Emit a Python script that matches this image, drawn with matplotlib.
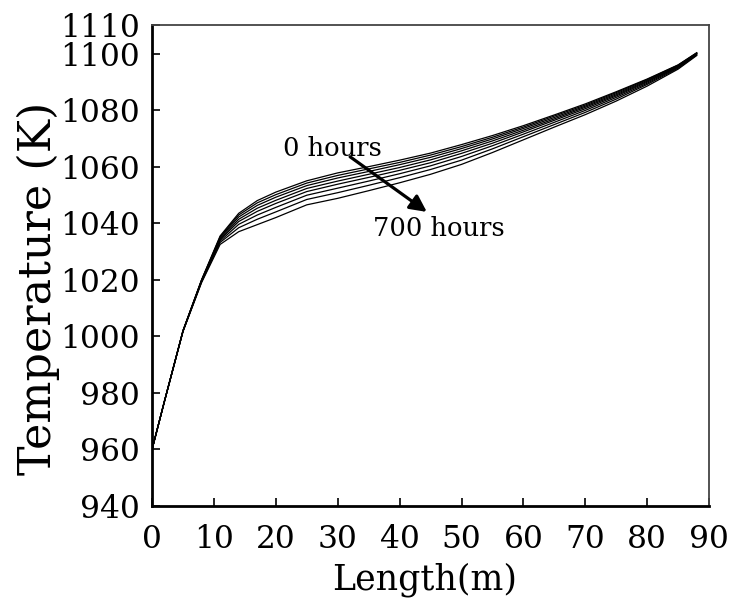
import matplotlib
matplotlib.use("Agg")
import matplotlib.pyplot as plt

# positions along the tube (m)
length = [0, 2, 5, 8, 11, 14, 17, 20, 25, 30, 35, 40, 45, 50, 55, 60, 65, 70, 75, 80, 85, 88]

# temperature profiles (K), 0 h ... 700 h in 100 h steps
t_000h = [960, 977, 1002.0, 1020.0, 1035.5, 1043.5, 1048.0, 1051.0, 1055.0, 1057.8, 1060.0, 1062.3,
          1064.8, 1067.8, 1071.0, 1074.5, 1078.3, 1082.2, 1086.5, 1091.0, 1096.0, 1100.3]
t_100h = [960, 977, 1002.0, 1019.9, 1035.2, 1042.9, 1047.2, 1050.1, 1054.2, 1056.9, 1059.2, 1061.5,
          1064.1, 1067.1, 1070.4, 1074.0, 1077.9, 1081.8, 1086.2, 1090.8, 1095.9, 1100.2]
t_200h = [960, 977, 1001.9, 1019.8, 1034.9, 1042.2, 1046.3, 1049.2, 1053.3, 1056.0, 1058.3, 1060.7,
          1063.3, 1066.4, 1069.8, 1073.5, 1077.4, 1081.4, 1085.8, 1090.5, 1095.7, 1100.1]
t_300h = [960, 977, 1001.9, 1019.7, 1034.5, 1041.4, 1045.3, 1048.1, 1052.3, 1054.9, 1057.3, 1059.7,
          1062.4, 1065.6, 1069.1, 1072.9, 1076.9, 1081.0, 1085.4, 1090.2, 1095.5, 1100.0]
t_400h = [960, 977, 1001.9, 1019.6, 1034.2, 1040.6, 1044.2, 1047.0, 1051.2, 1053.8, 1056.2, 1058.7,
          1061.4, 1064.7, 1068.3, 1072.3, 1076.4, 1080.5, 1085.0, 1089.9, 1095.3, 1099.9]
t_500h = [960, 977, 1001.8, 1019.4, 1033.7, 1039.6, 1042.9, 1045.6, 1049.9, 1052.4, 1054.9, 1057.5,
          1060.3, 1063.6, 1067.4, 1071.5, 1075.7, 1079.9, 1084.5, 1089.5, 1095.1, 1099.7]
t_600h = [960, 977, 1001.8, 1019.2, 1033.2, 1038.4, 1041.4, 1044.0, 1048.4, 1050.8, 1053.4, 1056.1,
          1059.0, 1062.3, 1066.3, 1070.6, 1074.9, 1079.2, 1083.9, 1089.1, 1094.8, 1099.5]
t_700h = [960, 977, 1001.7, 1019.0, 1032.5, 1037.0, 1039.5, 1042.0, 1046.5, 1048.8, 1051.5, 1054.3,
          1057.3, 1060.8, 1065.0, 1069.5, 1074.0, 1078.4, 1083.2, 1088.5, 1094.5, 1099.3]

profiles = [t_000h, t_100h, t_200h, t_300h, t_400h, t_500h, t_600h, t_700h]

x_ticks = [0, 10, 20, 30, 40, 50, 60, 70, 80, 90]
y_ticks = [940, 960, 980, 1000, 1020, 1040, 1060, 1080, 1100, 1110]

plt.rcParams['font.family'] = ['DejaVu Serif']

fig = plt.figure(figsize=(7.31, 6.02), dpi=100)
ax = fig.add_axes([0.208, 0.1595, 0.762, 0.7985])

for temps in profiles:
    ax.plot(length, temps, color='black', lw=0.9)

# arrow from 0 hours to 700 hours
ax.annotate('', xy=(44.4, 1044.0), xytext=(32.0, 1063.5),
            arrowprops=dict(arrowstyle='-|>', color='black', lw=2.3,
                            mutation_scale=25, shrinkA=0, shrinkB=0))
ax.text(21.2, 1066.5, '0 hours', fontsize=18.5, va='center', ha='left')
ax.text(35.7, 1038.2, '700 hours', fontsize=18.5, va='center', ha='left')

ax.set_xlim(0, 90)
ax.set_ylim(940, 1110)
ax.set_xticks(x_ticks)
ax.set_yticks(y_ticks)
ax.tick_params(direction='in', length=6, width=1.2, labelsize=22.5,
               top=False, right=False)
ax.tick_params(axis='y', pad=9)
ax.tick_params(axis='x', pad=13)

for side in ['left', 'bottom']:
    ax.spines[side].set_linewidth(2.0)
for side in ['top', 'right']:
    ax.spines[side].set_linewidth(1.3)
    ax.spines[side].set_color('#444444')

ax.set_xlabel('Length(m)', fontsize=25)
ax.set_ylabel('Temperature (K)', fontsize=32)
ax.xaxis.set_label_coords(0.49, -0.117)
ax.yaxis.set_label_coords(-0.165, 0.453)

fig.savefig('out.png', dpi=100)
